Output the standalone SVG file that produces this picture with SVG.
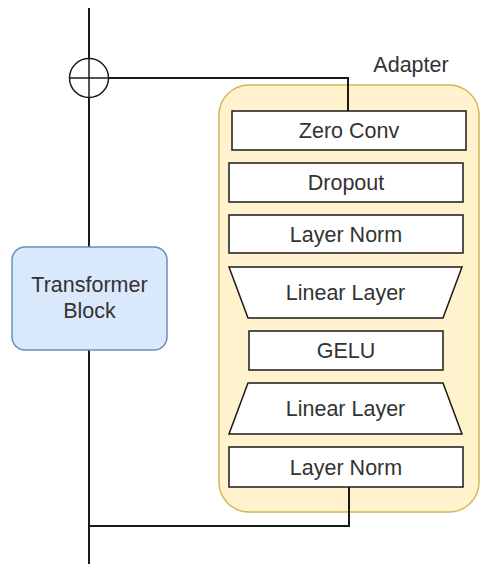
<svg xmlns="http://www.w3.org/2000/svg" width="494" height="574" viewBox="0 0 494 574">
<style>
.t{font-family:"Liberation Sans",Arial,sans-serif;font-size:21.5px;fill:#333;text-anchor:middle}
.b{fill:#fff;stroke:#1a1a1a;stroke-width:1.5}
.w{fill:none;stroke:#1a1a1a;stroke-width:2}
</style>
<rect width="494" height="574" fill="#fff"/>
<g id="adapter">
<rect x="219" y="85" width="260" height="427" rx="30" fill="#fff2cc" stroke="#d6b656" stroke-width="1.5"/>
<text class="t" x="411" y="72">Adapter</text>
</g>
<g id="connectors">
<line class="w" x1="89" y1="8" x2="89" y2="564"/>
<polyline class="w" points="109,78 348,78 348,111"/>
<polyline class="w" points="349,487 349,526 89,526"/>
</g>
<g id="sum">
<circle cx="89" cy="78" r="19.5" fill="#fff" stroke="#1a1a1a" stroke-width="1.5"/>
<line x1="69.5" y1="78" x2="108.5" y2="78" stroke="#1a1a1a" stroke-width="1.5"/>
<line x1="89" y1="58.5" x2="89" y2="97.5" stroke="#1a1a1a" stroke-width="1.5"/>
</g>
<g id="transformer">
<rect x="12" y="247" width="155" height="103" rx="13" fill="#dae8fc" stroke="#6c8ebf" stroke-width="1.5"/>
<text class="t" x="89.5" y="292">Transformer</text>
<text class="t" x="89.5" y="318">Block</text>
</g>
<g id="zeroconv">
<rect class="b" x="232" y="111" width="234" height="39"/>
<text class="t" x="349" y="137.5">Zero Conv</text>
</g>
<g id="dropout">
<rect class="b" x="229" y="163" width="234" height="39"/>
<text class="t" x="346" y="189.5">Dropout</text>
</g>
<g id="layernorm1">
<rect class="b" x="229" y="215" width="234" height="38"/>
<text class="t" x="346" y="241.5">Layer Norm</text>
</g>
<g id="linear1">
<polygon class="b" points="229,267 462,267 443,318 248,318"/>
<text class="t" x="345.5" y="299.5">Linear Layer</text>
</g>
<g id="gelu">
<rect class="b" x="249" y="331" width="194" height="39"/>
<text class="t" x="346" y="357.5">GELU</text>
</g>
<g id="linear2">
<polygon class="b" points="248,383 443,383 462,434 229,434"/>
<text class="t" x="345.5" y="415.5">Linear Layer</text>
</g>
<g id="layernorm2">
<rect class="b" x="229" y="447" width="234" height="40"/>
<text class="t" x="346" y="474.5">Layer Norm</text>
</g>
</svg>
